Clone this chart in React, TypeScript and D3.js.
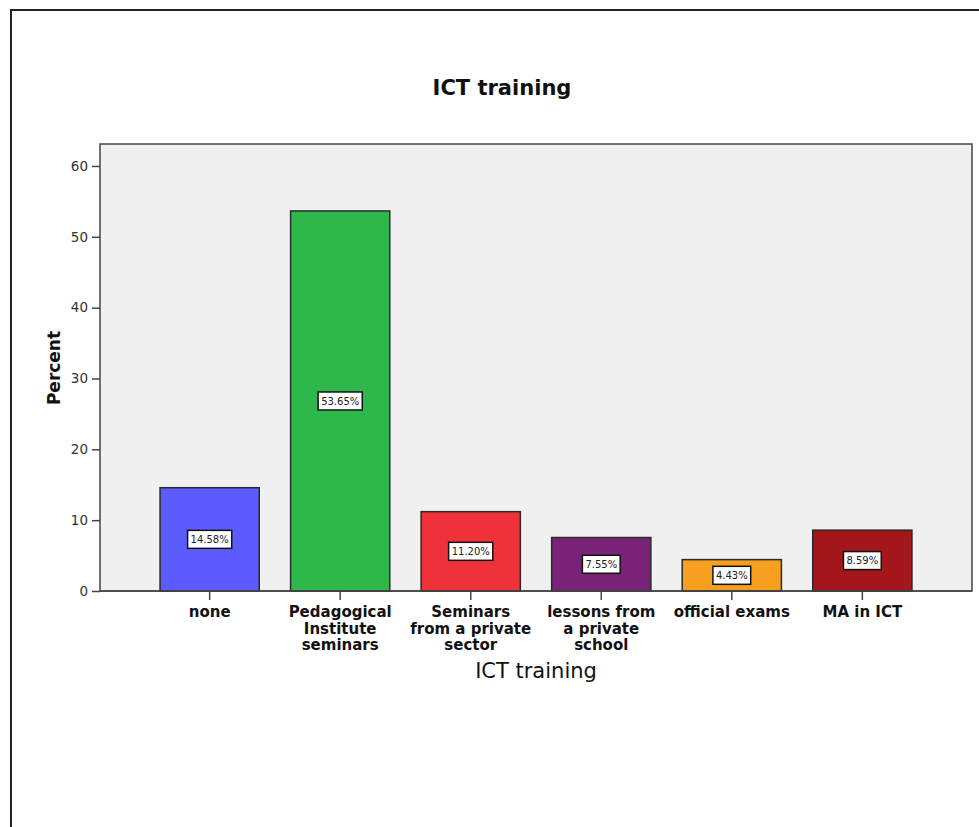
import React, { useEffect, useRef } from "react";
import * as d3 from "d3";

const categories = [
  "none",
  "Pedagogical\nInstitute\nseminars",
  "Seminars\nfrom a private\nsector",
  "lessons from\na private\nschool",
  "official exams",
  "MA in ICT",
];
const percents = [14.58, 53.65, 11.2, 7.55, 4.43, 8.59];
const valueLabels = ["14.58%", "53.65%", "11.20%", "7.55%", "4.43%", "8.59%"];
const barColors = ["#5b5bff", "#2eb84b", "#ef3239", "#7a2278", "#f79f1e", "#a3161b"];
const yTicks = [0, 10, 20, 30, 40, 50, 60];

const W = 979;
const H = 827;
const FONT = "'DejaVu Sans', sans-serif";

export default function App() {
  const ref = useRef<SVGSVGElement>(null);

  useEffect(() => {
    const svg = d3.select(ref.current);
    svg.selectAll("*").remove();

    const left = 100, right = 972, top = 144, bottom = 591;

    const x = d3.scaleBand<number>()
      .domain(d3.range(categories.length))
      .range([left, right])
      .paddingInner(0.24)
      .paddingOuter(0.46);

    const y = d3.scaleLinear().domain([0, 63.1]).range([bottom, top]);

    // outer frame
    svg.append("path")
      .attr("d", `M11,${H} L11,10 L${W},10`)
      .attr("fill", "none")
      .attr("stroke", "#222")
      .attr("stroke-width", 2);

    svg.append("text")
      .attr("x", 502).attr("y", 95)
      .attr("text-anchor", "middle")
      .attr("font-family", FONT)
      .attr("font-weight", "bold")
      .attr("font-size", 21)
      .attr("fill", "#111")
      .text("ICT training");

    // plot background
    svg.append("rect")
      .attr("x", left).attr("y", top)
      .attr("width", right - left).attr("height", bottom - top)
      .attr("fill", "#f0f0f0")
      .attr("stroke", "#444")
      .attr("stroke-width", 1.5);

    // y axis
    const yAxis = svg.append("g")
      .attr("transform", `translate(${left},0)`)
      .call(d3.axisLeft(y).tickValues(yTicks).tickSize(8).tickPadding(4));
    yAxis.select(".domain").remove();
    yAxis.selectAll("line").attr("stroke", "#444").attr("stroke-width", 1.5);
    yAxis.selectAll("text")
      .attr("font-family", FONT)
      .attr("font-size", 13.5)
      .attr("fill", "#333");

    // bars
    svg.append("g")
      .selectAll("rect")
      .data(percents)
      .join("rect")
      .attr("x", (_, i) => x(i)!)
      .attr("y", d => y(d))
      .attr("width", x.bandwidth())
      .attr("height", d => y(0) - y(d))
      .attr("fill", (_, i) => barColors[i])
      .attr("stroke", "#2a2a2a")
      .attr("stroke-width", 1.5);

    // value labels
    const lab = svg.append("g")
      .selectAll("g")
      .data(percents)
      .join("g")
      .attr("transform", (d, i) => `translate(${x(i)! + x.bandwidth() / 2},${(y(d) + y(0)) / 2})`);
    lab.append("rect").attr("class", "box");
    lab.append("text")
      .attr("text-anchor", "middle")
      .attr("dy", "0.36em")
      .attr("font-family", FONT)
      .attr("font-size", 10)
      .attr("fill", "#222")
      .text((_, i) => valueLabels[i]);
    lab.each(function () {
      const g = d3.select(this);
      const t = (g.select("text").node() as SVGTextElement).getBBox();
      g.select("rect.box")
        .attr("x", -t.width / 2 - 3)
        .attr("y", -9)
        .attr("width", t.width + 6)
        .attr("height", 18)
        .attr("fill", "#fff")
        .attr("stroke", "#111")
        .attr("stroke-width", 1.5);
    });

    // bottom axis line and ticks
    svg.append("line")
      .attr("x1", left).attr("x2", right)
      .attr("y1", bottom).attr("y2", bottom)
      .attr("stroke", "#444").attr("stroke-width", 1.5);
    const xAxis = svg.append("g")
      .attr("transform", `translate(0,${bottom})`)
      .call(d3.axisBottom(x).tickSize(9).tickFormat(() => ""));
    xAxis.select(".domain").remove();
    xAxis.selectAll("line").attr("stroke", "#444").attr("stroke-width", 1.5);

    // category labels
    svg.append("g")
      .selectAll("text")
      .data(categories)
      .join("text")
      .attr("text-anchor", "middle")
      .attr("font-family", FONT)
      .attr("font-weight", "bold")
      .attr("font-size", 15)
      .attr("fill", "#111")
      .each(function (c, i) {
        const t = d3.select(this);
        c.split("\n").forEach((line, k) => {
          t.append("tspan")
            .attr("x", x(i)! + x.bandwidth() / 2)
            .attr("y", 617 + k * 16.5)
            .text(line);
        });
      });

    svg.append("text")
      .attr("x", (left + right) / 2).attr("y", 678)
      .attr("text-anchor", "middle")
      .attr("font-family", FONT)
      .attr("font-size", 21)
      .attr("fill", "#111")
      .text("ICT training");

    svg.append("text")
      .attr("transform", `translate(60,368) rotate(-90)`)
      .attr("text-anchor", "middle")
      .attr("font-family", FONT)
      .attr("font-weight", "bold")
      .attr("font-size", 17)
      .attr("fill", "#111")
      .text("Percent");
  }, []);

  return (
    <svg
      ref={ref}
      width={W}
      height={H}
      style={{ position: "absolute", left: 0, top: 0, background: "#fff" }}
    />
  );
}
